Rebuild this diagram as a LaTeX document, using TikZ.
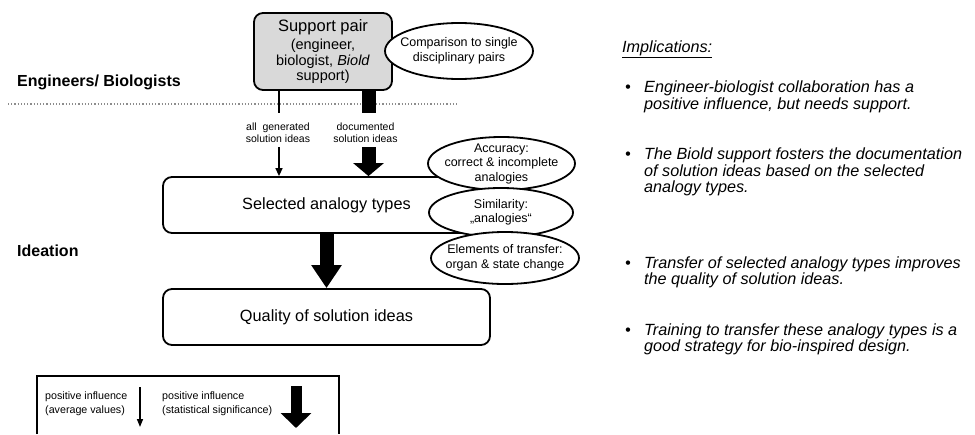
\documentclass[tikz,border=0pt]{standalone}
\usepackage{fontspec}
\setmainfont{Liberation Sans}
\usetikzlibrary{shapes.geometric, arrows.meta}
\tikzstyle{pairbox}=[rectangle, draw, fill=black!15, line width=1.8pt, rounded corners=9pt, minimum width=138pt, minimum height=77pt, align=center, inner sep=0pt, font=\fontsize{14.5}{15.5}\selectfont]
\tikzstyle{stepbox}=[rectangle, draw, line width=1.8pt, rounded corners=9pt, minimum width=327pt, minimum height=56pt, font=\fontsize{16.3}{18}\selectfont]
\tikzstyle{bubble}=[ellipse, draw, fill=white, line width=1.8pt, inner sep=0pt]
\tikzstyle{bubbletext}=[align=center, inner sep=0pt, font=\fontsize{12.5}{14.5}\selectfont]
\tikzstyle{heading}=[inner sep=0pt, font=\fontsize{16}{18}\selectfont\bfseries]
\tikzstyle{small}=[align=center, inner sep=0pt, font=\fontsize{10.5}{12}\selectfont]
\tikzstyle{legendtext}=[align=left, inner sep=0pt, font=\fontsize{10.7}{14}\selectfont]
\tikzstyle{implic}=[align=left, inner sep=0pt, font=\fontsize{16.2}{16.5}\selectfont\itshape]
\tikzstyle{slim}=[line width=1.5pt]
\tikzstyle{fat}=[line width=14pt]

\begin{document}
\begin{tikzpicture}[x=1pt, y=-1pt]
  \useasboundingbox (0,0) rectangle (975,434);
  % levels
  \node[heading, anchor=base west] (eng) at (17,86) {Engineers/ Biologists};
  \node[heading, anchor=base west] (idea) at (17,256.5) {Ideation};
  \coordinate (sepl) at (8,104);
  \coordinate (sepr) at (457,104);
  \draw[black!45, line width=1.2pt, dotted] (sepl) -- (sepr);

  % boxes
  \node[pairbox] (pair) at (323,51.5) {{\fontsize{16.5}{18}\selectfont Support pair}\\[3pt]
    (engineer,\\ biologist, \textit{Biold}\\ support)};
  \node[stepbox] (sel) at (326.5,205) {Selected analogy types};
  \node[stepbox] (qual) at (326.5,317) {Quality of solution ideas};

  % pair -> selected
  \coordinate (g1) at (279,113);
  \coordinate (g2) at (279,147);
  \coordinate (d1) at (368.5,113);
  \coordinate (d2) at (368.5,147);
  \draw[slim] (pair.south -| g1) -- (g1);
  \draw[slim, -{Triangle[width=7pt, length=8pt]}] (g2) -- (sel.north -| g2);
  \draw[fat] (pair.south -| d1) -- (d1);
  \draw[fat, -{Triangle[width=30pt, length=13pt]}] (d2) -- (sel.north -| d2);
  \node[small] (all) at (278,133) {all \ generated\\solution ideas};
  \node[small] (doc) at (365.5,133) {documented\\solution ideas};

  % selected -> quality
  \draw[fat, -{Triangle[width=29pt, length=23pt]}] (sel.south) -- (qual.north);

  % ellipses
  \node[bubble, minimum width=148pt, minimum height=56pt] (comp) at (459,51) {};
  \node[bubbletext] (comptext) at (comp) {Comparison to single\\disciplinary pairs};
  \node[bubble, minimum width=147pt, minimum height=53pt] (acc) at (501.5,163.5) {};
  \node[bubbletext] (acctext) at (acc) {Accuracy:\\correct \& incomplete\\analogies};
  \node[bubble, minimum width=144pt, minimum height=49pt] (sim) at (501,212.5) {};
  \node[bubbletext] (simtext) at (sim) {Similarity:\\„analogies“};
  \node[bubble, minimum width=148pt, minimum height=52pt] (elem) at (505,258) {};
  \node[bubbletext] (elemtext) at (elem) {Elements of transfer:\\organ \& state change};

  % legend
  \draw[line width=1.8pt] (37,434) -- (37,376) -- (339,376) -- (339,434);
  \node[legendtext, anchor=west] (avg) at (45,403.5) {positive influence\\(average values)};
  \coordinate (la1) at (140,387);
  \coordinate (la2) at (140,427);
  \draw[slim, -{Triangle[width=6pt, length=8pt]}] (la1) -- (la2);
  \node[legendtext, anchor=west] (sig) at (162,403.5) {positive influence\\(statistical significance)};
  \coordinate (lb1) at (296,386);
  \coordinate (lb2) at (296,428);
  \draw[line width=11pt, -{Triangle[width=30pt, length=15pt]}] (lb1) -- (lb2);

  % implications (base = last line)
  \node[implic, anchor=base west] (imptitle) at (622,52) {\underline{Implications:}};
  \node[implic, anchor=base] (bul1) at (628,92.5) {\textbullet};
  \node[implic, anchor=base west] (imp1) at (644,109) {Engineer-biologist collaboration has a\\positive influence, but needs support.};
  \node[implic, anchor=base] (bul2) at (628,159.5) {\textbullet};
  \node[implic, anchor=base west] (imp2) at (644,192.5) {The Biold support fosters the documentation\\of solution ideas based on the selected\\analogy types.};
  \node[implic, anchor=base] (bul3) at (628,268) {\textbullet};
  \node[implic, anchor=base west] (imp3) at (644,284.5) {Transfer of selected analogy types improves\\the quality of solution ideas.};
  \node[implic, anchor=base] (bul4) at (628,335) {\textbullet};
  \node[implic, anchor=base west] (imp4) at (644,351.5) {Training to transfer these analogy types is a\\good strategy for bio-inspired design.};
\end{tikzpicture}
\end{document}
